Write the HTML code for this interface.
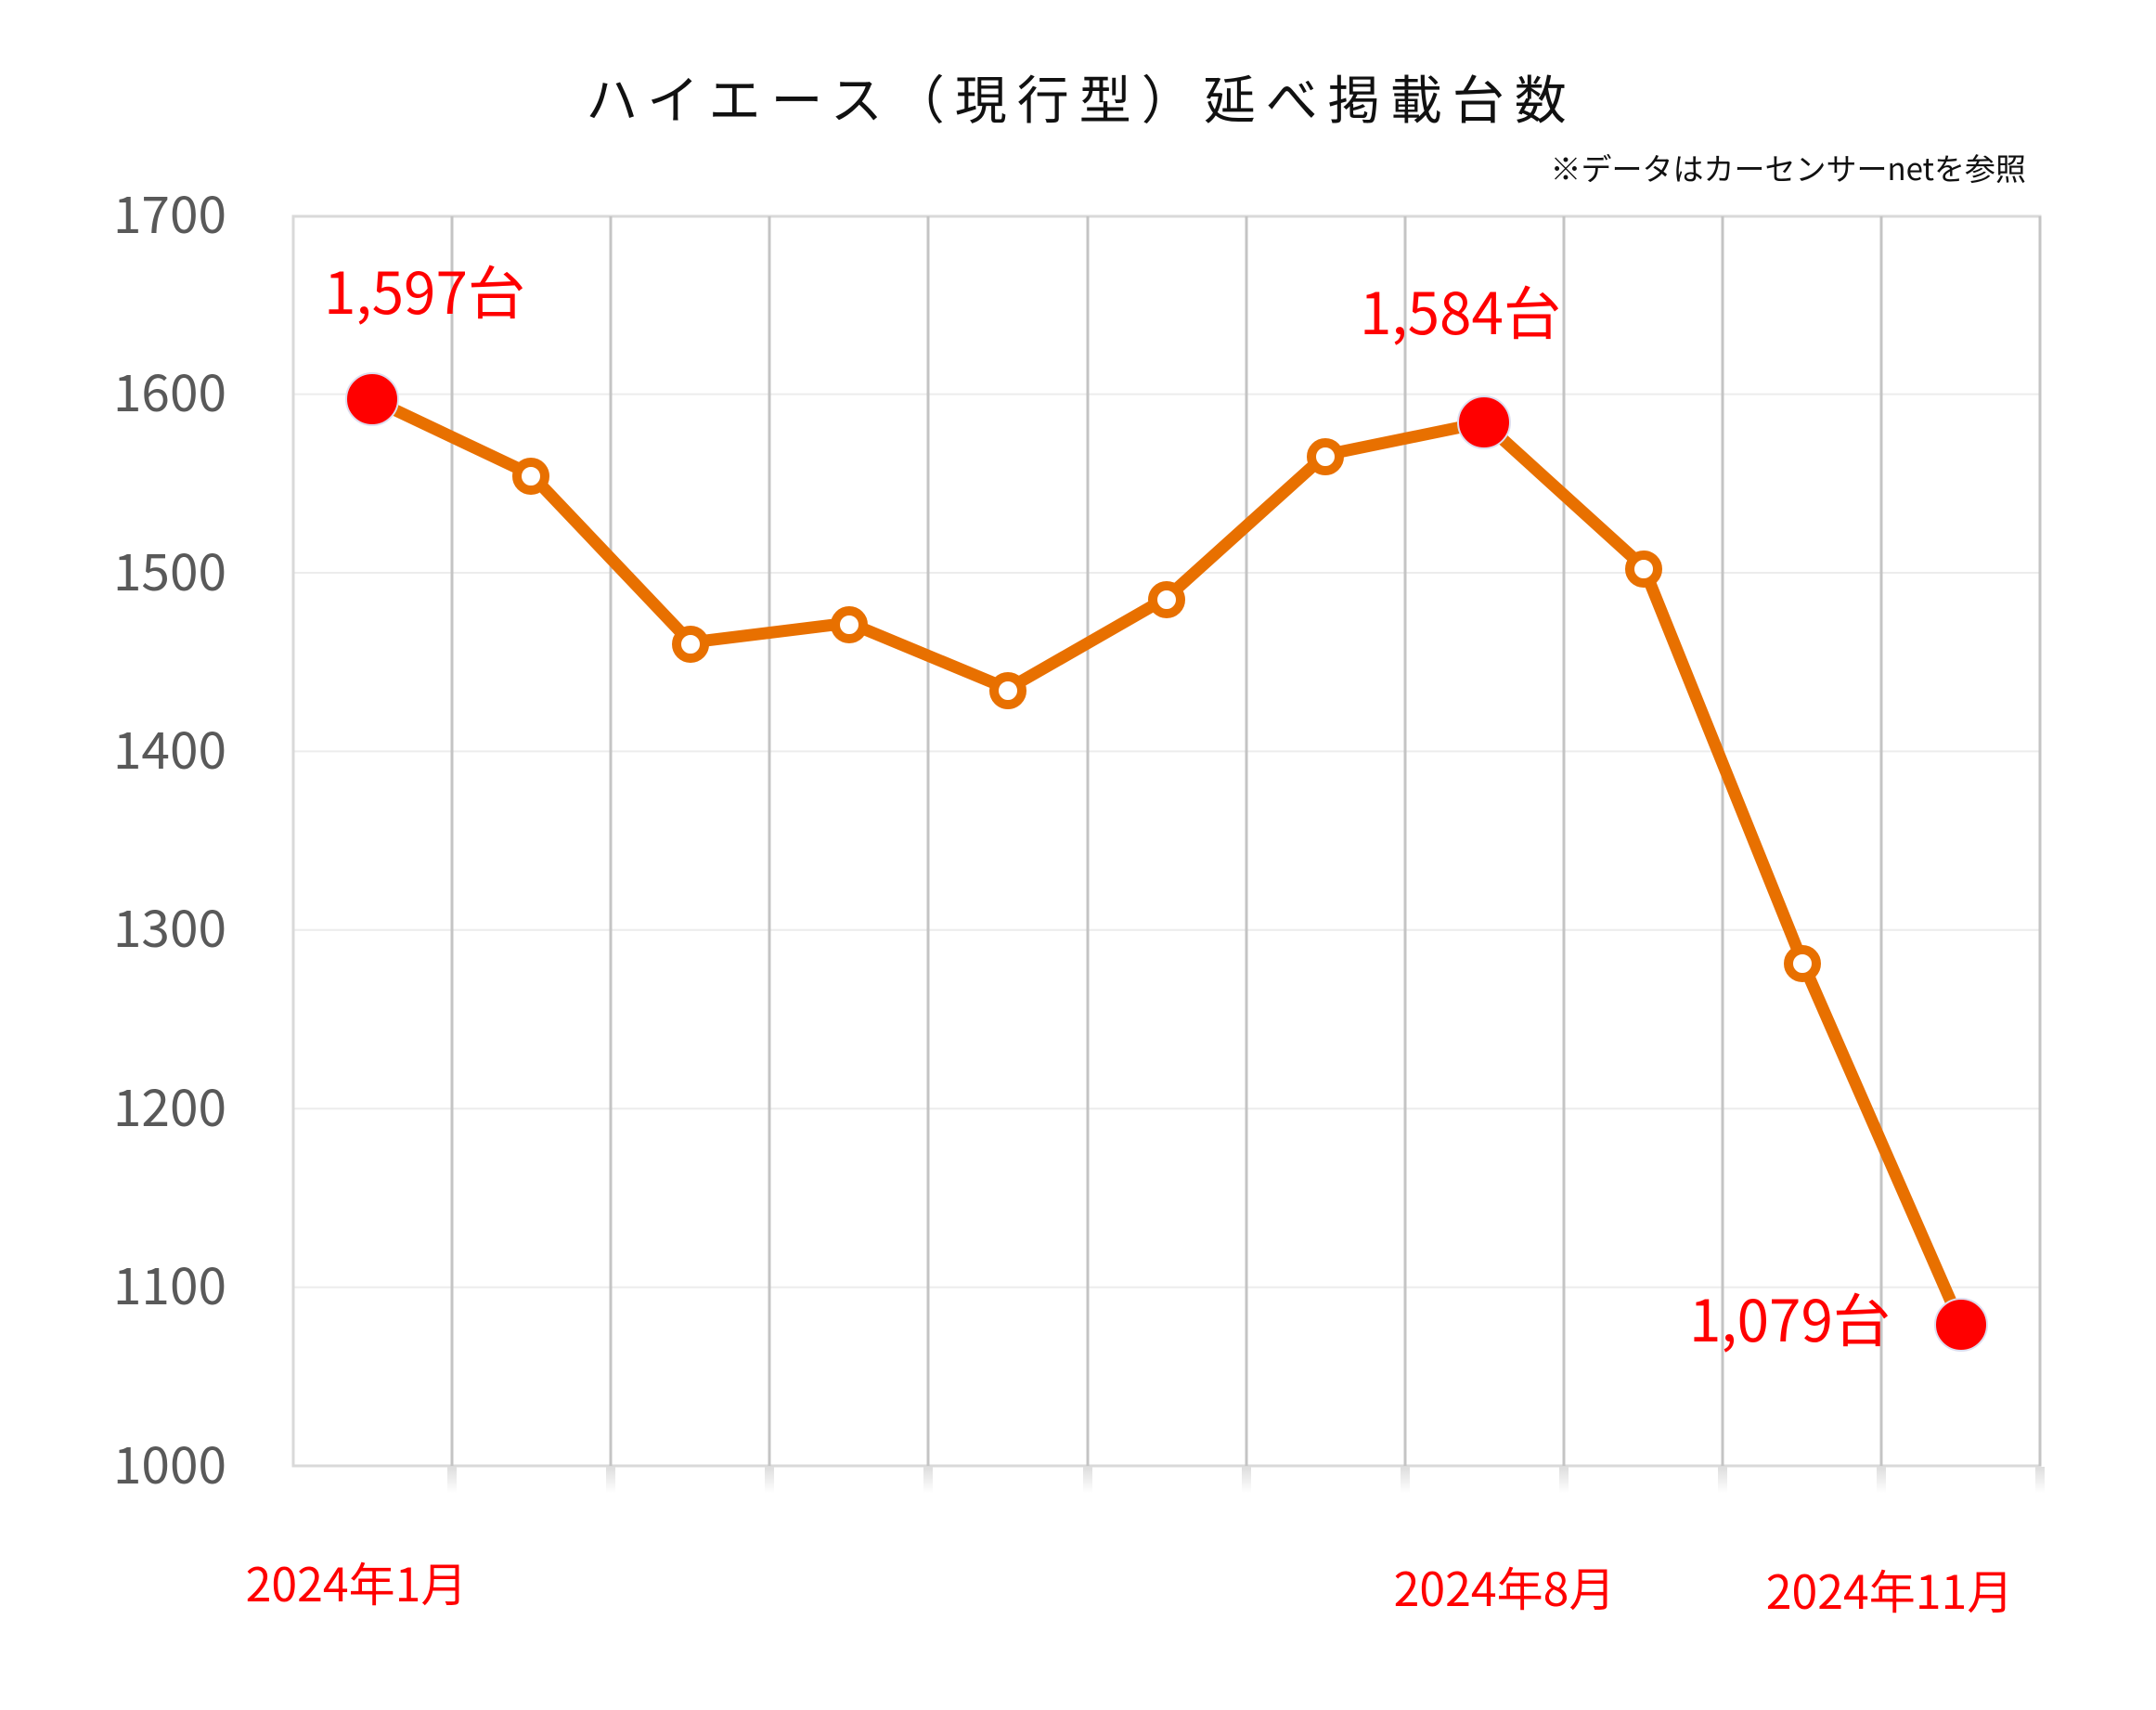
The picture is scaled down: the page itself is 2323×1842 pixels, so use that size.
<!DOCTYPE html>
<html><head><meta charset="utf-8"><style>html,body{margin:0;padding:0;background:#fff}svg{display:block}</style></head>
<body>
<svg width="2323" height="1842" viewBox="0 0 2323 1842" xmlns="http://www.w3.org/2000/svg" font-family="'Liberation Sans','Noto Sans CJK JP',sans-serif">
<defs>
<linearGradient id="sh" x1="0" y1="0" x2="0" y2="1"><stop offset="0" stop-color="#ddd"/><stop offset="1" stop-color="#fff"/></linearGradient>
</defs>
<text x="1165" y="128" font-size="56" text-anchor="middle" letter-spacing="11" font-family="'Noto Sans CJK JP',sans-serif" fill="#111">ハイエース（現行型）延べ掲載台数</text>
<text x="2183" y="194" font-size="33" text-anchor="end" font-family="'Noto Sans CJK JP',sans-serif" fill="#111">※データはカーセンサーnetを参照</text>
<g stroke="#ececec" stroke-width="2">
<line x1="316" y1="424.6" x2="2198" y2="424.6"/><line x1="316" y1="617" x2="2198" y2="617"/><line x1="316" y1="809.4" x2="2198" y2="809.4"/><line x1="316" y1="1001.8" x2="2198" y2="1001.8"/><line x1="316" y1="1194.2" x2="2198" y2="1194.2"/><line x1="316" y1="1386.6" x2="2198" y2="1386.6"/>
</g>
<rect x="316" y="233" width="1882" height="1346" fill="none" stroke="#d9d9d9" stroke-width="3"/>
<g fill="url(#sh)">
<rect x="482" y="1580" width="10" height="28"/><rect x="653" y="1580" width="10" height="28"/><rect x="824" y="1580" width="10" height="28"/><rect x="995" y="1580" width="10" height="28"/><rect x="1167" y="1580" width="10" height="28"/><rect x="1338" y="1580" width="10" height="28"/><rect x="1509" y="1580" width="10" height="28"/><rect x="1680" y="1580" width="10" height="28"/><rect x="1851" y="1580" width="10" height="28"/><rect x="2022" y="1580" width="10" height="28"/><rect x="2193" y="1580" width="10" height="28"/>
</g>
<g stroke="#c4c4c4" stroke-width="3">
<line x1="487" y1="233" x2="487" y2="1579"/><line x1="658" y1="233" x2="658" y2="1579"/><line x1="829" y1="233" x2="829" y2="1579"/><line x1="1000" y1="233" x2="1000" y2="1579"/><line x1="1172" y1="233" x2="1172" y2="1579"/><line x1="1343" y1="233" x2="1343" y2="1579"/><line x1="1514" y1="233" x2="1514" y2="1579"/><line x1="1685" y1="233" x2="1685" y2="1579"/><line x1="1856" y1="233" x2="1856" y2="1579"/><line x1="2027" y1="233" x2="2027" y2="1579"/><line x1="2198" y1="233" x2="2198" y2="1579"/>
</g>
<g font-size="55" fill="#595959" text-anchor="end" font-family="'Noto Sans CJK JP',sans-serif">
<text x="244" y="251">1700</text><text x="244" y="443">1600</text><text x="244" y="636">1500</text><text x="244" y="828">1400</text><text x="244" y="1020">1300</text><text x="244" y="1213">1200</text><text x="244" y="1405">1100</text><text x="244" y="1598">1000</text>
</g>
<polyline fill="none" stroke="#E87000" stroke-width="13" stroke-linejoin="round" points="401,430 572,511 744,692 915,671 1086,742 1257,644 1428,490 1599,455 1771,611 1942,1036 2113,1427"/>
<g fill="#fff" stroke="#E87000" stroke-width="10">
<circle cx="572" cy="513" r="15"/><circle cx="744" cy="694" r="15"/><circle cx="915" cy="673" r="15"/><circle cx="1086" cy="744" r="15"/><circle cx="1257" cy="646" r="15"/><circle cx="1428" cy="492" r="15"/><circle cx="1771" cy="613" r="15"/><circle cx="1942" cy="1038" r="15"/>
</g>
<g fill="#ff0000" stroke="#dde" stroke-width="2">
<circle cx="401" cy="430" r="28"/><circle cx="1599" cy="455" r="28"/><circle cx="2113" cy="1427" r="28"/>
</g>
<g fill="#ff0000" font-size="62" font-family="'Noto Sans CJK JP',sans-serif">
<text x="349" y="338">1,597台</text><text x="1465" y="360">1,584台</text><text x="1820" y="1445">1,079台</text>
</g>
<g fill="#ff0000" font-size="50" text-anchor="middle" font-family="'Noto Sans CJK JP',sans-serif">
<text x="384" y="1725">2024年1月</text><text x="1621" y="1730">2024年8月</text><text x="2036" y="1733">2024年11月</text>
</g>
</svg>
</body></html>
